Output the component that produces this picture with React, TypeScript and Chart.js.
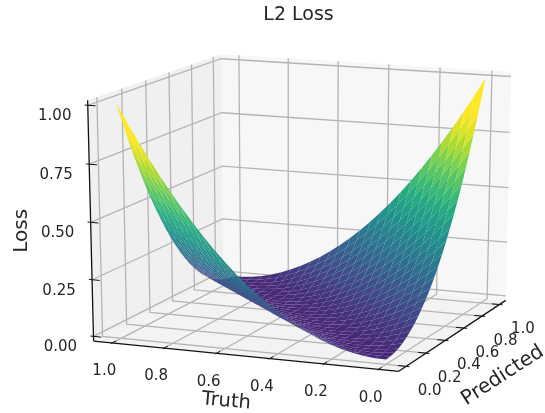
import React, { useEffect, useRef } from "react";
import { Chart, registerables } from "chart.js";

Chart.register(...registerables);

// Grid positions along both horizontal axes
const gridSteps = [0, 0.04, 0.08, 0.12, 0.16, 0.2, 0.24, 0.28, 0.32, 0.36, 0.4, 0.44, 0.48, 0.52, 0.56, 0.6, 0.64, 0.68, 0.72, 0.76, 0.8, 0.84, 0.88, 0.92, 0.96, 1];
// Loss read for each grid-step distance between truth and predicted
const lossByGridGap = [0, 0.0016, 0.0064, 0.0144, 0.0256, 0.04, 0.0576, 0.0784, 0.1024, 0.1296, 0.16, 0.1936, 0.2304, 0.2704, 0.3136, 0.36, 0.4096, 0.4624, 0.5184, 0.5776, 0.64, 0.7056, 0.7744, 0.8464, 0.9216, 1];

const truthTicks = [0, 0.2, 0.4, 0.6, 0.8, 1];
const truthTickLabels = ["0.0", "0.2", "0.4", "0.6", "0.8", "1.0"];
const predictedTicks = [0, 0.2, 0.4, 0.6, 0.8, 1];
const predictedTickLabels = ["0.0", "0.2", "0.4", "0.6", "0.8", "1.0"];
const lossTicks = [0, 0.25, 0.5, 0.75, 1];
const lossTickLabels = ["0.00", "0.25", "0.50", "0.75", "1.00"];

const viridis = ["#440154", "#482475", "#414487", "#355f8d", "#2a788e", "#21918c", "#22a884", "#44bf70", "#7ad151", "#bddf26", "#fde725"];

// Camera
const ELEV = (15 * Math.PI) / 180;
const AZIM = (202 * Math.PI) / 180;
const DIST = 10;
const CX = 305.3;
const CY = 204.5;
const SX = 3078;
const SY = 2330;
const TITLE_SIZE = 19;
const TITLE_PAD = 4;
const TITLE_H = TITLE_SIZE * 1.2 + TITLE_PAD * 2;
const LEFT_PAD = 52;

const LIM = [-0.05, 1.05];
const PAD = (LIM[1] - LIM[0]) / 48;
const T0 = LIM[0] - PAD;
const T1 = LIM[1] + PAD;
const Z0 = -1 / 48;
const Z1 = 1 + 1 / 48;

const n = [Math.cos(AZIM) * Math.cos(ELEV), Math.sin(AZIM) * Math.cos(ELEV), Math.sin(ELEV)];
const uLen = Math.hypot(n[0], n[1]);
const u = [-n[1] / uLen, n[0] / uLen, 0];
const v = [n[1] * u[2] - n[2] * u[1], n[2] * u[0] - n[0] * u[2], n[0] * u[1] - n[1] * u[0]];

function project(truth: number, predicted: number, loss: number) {
  const q = [(predicted - LIM[0]) / (LIM[1] - LIM[0]) - 0.5, (truth - LIM[0]) / (LIM[1] - LIM[0]) - 0.5, loss - 0.5];
  const dot = (a: number[]) => a[0] * q[0] + a[1] * q[1] + a[2] * q[2];
  const depth = dot(n);
  const w = DIST - depth;
  return { x: dot(u) / w, y: dot(v) / w, depth };
}

function hexRgb(h: string) {
  return [parseInt(h.slice(1, 3), 16), parseInt(h.slice(3, 5), 16), parseInt(h.slice(5, 7), 16)];
}
function viridisAt(t: number) {
  const f = Math.min(Math.max(t, 0), 1) * (viridis.length - 1);
  const i = Math.min(Math.floor(f), viridis.length - 2);
  const a = hexRgb(viridis[i]);
  const b = hexRgb(viridis[i + 1]);
  const k = f - i;
  return `rgb(${a.map((c, j) => Math.round(c + (b[j] - c) * k)).join(",")})`;
}

function line(pts: number[][], color: string, width: number) {
  return {
    data: pts.map((p) => {
      const r = project(p[0], p[1], p[2]);
      return { x: r.x, y: r.y };
    }),
    showLine: true,
    fill: false,
    borderColor: color,
    borderWidth: width,
    pointRadius: 0,
    tension: 0,
  };
}
function poly(pts: number[][], color: string) {
  return {
    ...line([...pts, pts[0]], color, 0),
    fill: "shape",
    backgroundColor: color,
  };
}

function buildDatasets() {
  const out: any[] = [];
  // panes
  out.push(poly([[T1, T0, Z0], [T1, T1, Z0], [T1, T1, Z1], [T1, T0, Z1]], "#f0f0f0"));
  out.push(poly([[T0, T1, Z0], [T1, T1, Z0], [T1, T1, Z1], [T0, T1, Z1]], "#f7f7f7"));
  out.push(poly([[T0, T0, Z0], [T1, T0, Z0], [T1, T1, Z0], [T0, T1, Z0]], "#f3f3f3"));
  // grid
  const gc = "rgb(180,180,180)";
  const gw = 1.3;
  truthTicks.forEach((t) => out.push(line([[t, T0, Z0], [t, T1, Z0], [t, T1, Z1]], gc, gw)));
  predictedTicks.forEach((p) => out.push(line([[T0, p, Z0], [T1, p, Z0], [T1, p, Z1]], gc, gw)));
  lossTicks.forEach((z) => out.push(line([[T1, T0, z], [T1, T1, z], [T0, T1, z]], gc, gw)));
  // axes
  const ac = "#111111";
  out.push(line([[T1, T0, Z0], [T1, T0, Z1]], ac, 1.3));
  out.push(line([[T0, T0, Z0], [T1, T0, Z0]], ac, 1.3));
  out.push(line([[T0, T0, Z0], [T0, T1, Z0]], ac, 1.3));
  truthTicks.forEach((t) => out.push(line([[t, T0 - 0.012, Z0], [t, T0 + 0.03, Z0]], ac, 1)));
  predictedTicks.forEach((p) => out.push(line([[T0 - 0.012, p, Z0], [T0 + 0.03, p, Z0]], ac, 1)));
  lossTicks.forEach((z) => out.push(line([[T1 + 0.012, T0, z], [T1 - 0.03, T0, z]], ac, 1)));

  // surface
  const cells: { pts: number[][]; avg: number; depth: number }[] = [];
  for (let i = 0; i < gridSteps.length - 1; i++) {
    for (let j = 0; j < gridSteps.length - 1; j++) {
      const corners = [[i, j], [i + 1, j], [i + 1, j + 1], [i, j + 1]];
      const pts = corners.map(([a, b]) => [gridSteps[a], gridSteps[b], lossByGridGap[Math.abs(a - b)]]);
      const avg = pts.reduce((s, p) => s + p[2], 0) / 4;
      const depth = pts.reduce((s, p) => s + project(p[0], p[1], p[2]).depth, 0) / 4;
      cells.push({ pts, avg, depth });
    }
  }
  cells.sort((a, b) => a.depth - b.depth);
  cells.forEach((c) => out.push(poly(c.pts, viridisAt(0.11 + 1.08 * c.avg))));

  // chart draws the highest "order" first
  out.forEach((d, i) => (d.order = out.length - i));
  return out;
}

const textPlugin = {
  id: "axisText",
  afterDatasetsDraw(chart: any) {
    const { ctx, scales } = chart;
    const put = (txt: string, a: number[], dx: number, dy: number, size: number, rot = 0) => {
      const r = project(a[0], a[1], a[2]);
      ctx.save();
      ctx.translate(scales.x.getPixelForValue(r.x) + dx, scales.y.getPixelForValue(r.y) + dy);
      ctx.rotate((rot * Math.PI) / 180);
      ctx.font = `${size}px "DejaVu Sans"`;
      ctx.fillStyle = "#262626";
      ctx.textAlign = "center";
      ctx.textBaseline = "middle";
      ctx.fillText(txt, 0, 0);
      ctx.restore();
    };
    truthTicks.forEach((t, i) => put(truthTickLabels[i], [t, T0, Z0], -8, 28.5, 15));
    predictedTicks.forEach((p, i) => put(predictedTickLabels[i], [T0, p, Z0], 23.5, 25, 15));
    lossTicks.forEach((z, i) => put(lossTickLabels[i], [T1, T0, z], -33, 11, 15));
    put("Truth", [0.5, T0, Z0], -17, 45.5, 19.5, 5);
    put("Predicted", [T0, 0.5, Z0], 48, 41.5, 20, -33);
    put("Loss", [T1, T0, 0.5], -69, 8.5, 20, -90);
  },
};

export default function App() {
  const ref = useRef<HTMLCanvasElement>(null);
  useEffect(() => {
    const chart = new Chart(ref.current as HTMLCanvasElement, {
      type: "scatter",
      data: { datasets: buildDatasets() },
      options: {
        animation: false,
        responsive: false,
        events: [],
        layout: { padding: { left: LEFT_PAD, top: 0, right: 0, bottom: 0 } },
        plugins: {
          legend: { display: false },
          tooltip: { enabled: false },
          filler: { drawTime: "beforeDatasetDraw" },
          title: {
            display: true,
            fullSize: false,
            text: "L2 Loss",
            color: "#262626",
            font: { family: '"DejaVu Sans"', size: TITLE_SIZE, weight: "normal" },
            padding: { top: TITLE_PAD, bottom: TITLE_PAD },
          },
        },
        scales: {
          x: { type: "linear", display: false, min: (LEFT_PAD - CX) / SX, max: (545 - CX) / SX },
          y: { type: "linear", display: false, min: (CY - 413) / SY, max: (CY - TITLE_H) / SY },
        },
      },
      plugins: [textPlugin],
    } as any);
    return () => chart.destroy();
  }, []);
  return (
    <div style={{ position: "absolute", left: 0, top: 0, width: 545, height: 413 }}>
      <canvas ref={ref} width={545} height={413} style={{ display: "block", filter: "blur(0.45px)" }} />
    </div>
  );
}
